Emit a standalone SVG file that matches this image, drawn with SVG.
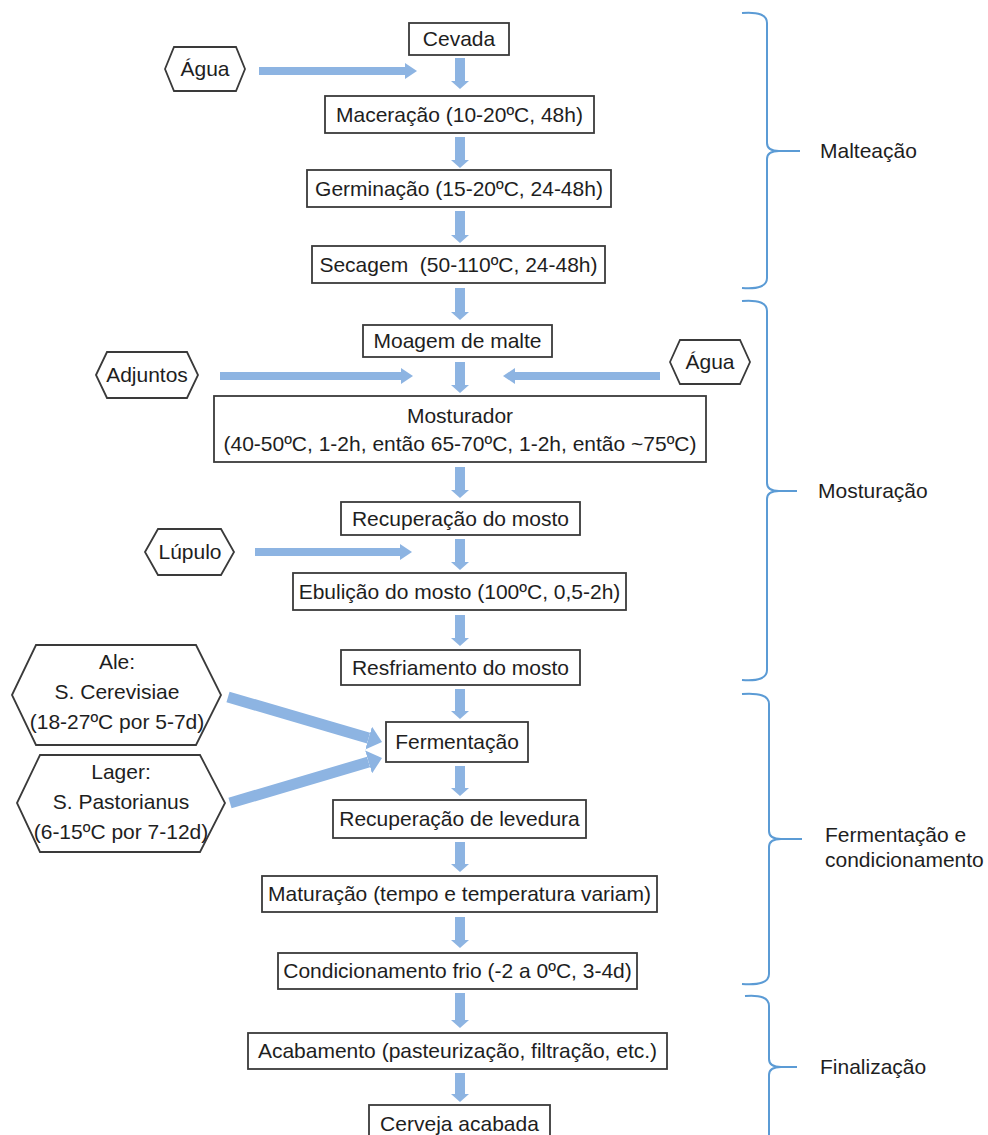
<svg xmlns="http://www.w3.org/2000/svg" width="988" height="1135" viewBox="0 0 988 1135">
<defs>
<style>
.box{fill:#fff;stroke:#3a3a3a;stroke-width:1.8}
.hex{fill:#fff;stroke:#3a3a3a;stroke-width:1.8}
.t{font-family:"Liberation Sans",Arial,sans-serif;font-size:21px;fill:#1e1e1e;text-anchor:middle}
.lbl{font-family:"Liberation Sans",Arial,sans-serif;font-size:21px;fill:#1e1e1e}
.ad{stroke:#8db4e2;stroke-width:10;fill:none}
.ah{stroke:#8db4e2;stroke-width:8;fill:none}
.ag{stroke:#8db4e2;stroke-width:11;fill:none}
.br{stroke:#5b9bd5;stroke-width:2;fill:none}
</style>
<marker id="mD" markerUnits="userSpaceOnUse" markerWidth="8" markerHeight="18" viewBox="0 -9 8 18" refX="0" refY="0" orient="auto"><path d="M0,-9 L8,0 L0,9 Z" fill="#8db4e2"/></marker>
<marker id="mH" markerUnits="userSpaceOnUse" markerWidth="12" markerHeight="16" viewBox="0 -8 12 16" refX="0" refY="0" orient="auto"><path d="M0,-8 L12,0 L0,8 Z" fill="#8db4e2"/></marker>
<marker id="mG" markerUnits="userSpaceOnUse" markerWidth="14" markerHeight="24" viewBox="0 -12 14 24" refX="0" refY="0" orient="auto"><path d="M0,-12 L14,0 L0,12 Z" fill="#8db4e2"/></marker>
</defs>
<rect width="988" height="1135" fill="#fff"/>

<g id="connectors">
<line class="ad" x1="460" y1="58" x2="460" y2="81" marker-end="url(#mD)"/>
<line class="ad" x1="460" y1="137" x2="460" y2="160" marker-end="url(#mD)"/>
<line class="ad" x1="460" y1="211" x2="460" y2="235" marker-end="url(#mD)"/>
<line class="ad" x1="460" y1="288" x2="460" y2="312" marker-end="url(#mD)"/>
<line class="ad" x1="460" y1="362" x2="460" y2="385" marker-end="url(#mD)"/>
<line class="ad" x1="460" y1="467" x2="460" y2="490" marker-end="url(#mD)"/>
<line class="ad" x1="460" y1="539" x2="460" y2="562" marker-end="url(#mD)"/>
<line class="ad" x1="460" y1="615" x2="460" y2="638" marker-end="url(#mD)"/>
<line class="ad" x1="460" y1="689" x2="460" y2="711" marker-end="url(#mD)"/>
<line class="ad" x1="460" y1="766" x2="460" y2="788" marker-end="url(#mD)"/>
<line class="ad" x1="460" y1="842" x2="460" y2="864" marker-end="url(#mD)"/>
<line class="ad" x1="460" y1="917" x2="460" y2="940" marker-end="url(#mD)"/>
<line class="ad" x1="460" y1="993" x2="460" y2="1020" marker-end="url(#mD)"/>
<line class="ad" x1="460" y1="1073" x2="460" y2="1094" marker-end="url(#mD)"/>
<line class="ah" x1="259" y1="71" x2="405" y2="71" marker-end="url(#mH)"/>
<line class="ah" x1="220" y1="376" x2="401" y2="376" marker-end="url(#mH)"/>
<line class="ah" x1="660" y1="376" x2="515" y2="376" marker-end="url(#mH)"/>
<line class="ah" x1="255" y1="552" x2="400" y2="552" marker-end="url(#mH)"/>
<line class="ag" x1="228" y1="697" x2="368.6" y2="738.1" marker-end="url(#mG)"/>
<line class="ag" x1="230" y1="803" x2="368.6" y2="762" marker-end="url(#mG)"/>
</g>

<g id="brackets">
<path class="br" d="M742,13 Q767,11 767,23 L767,143 Q767,151 779,151 L800,151 M779,151 Q767,151 767,159 L767,278 Q767,290 742,288"/>
<path class="br" d="M742,301 Q767,299 767,311 L767,483 Q767,491 779,491 L797,491 M779,491 Q767,491 767,499 L767,670 Q767,682 742,680"/>
<path class="br" d="M742,694 Q769,692 769,704 L769,831 Q769,839 781,839 L802,839 M781,839 Q769,839 769,847 L769,974 Q769,986 742,984"/>
<path class="br" d="M745,996 Q769,994 769,1006 L769,1059 Q769,1067 781,1067 L797,1067 M781,1067 Q769,1067 769,1075 L769,1140"/>
<text class="lbl" x="820" y="158">Malteação</text>
<text class="lbl" x="818" y="498">Mosturação</text>
<text class="lbl" x="825" y="842">Fermentação e</text>
<text class="lbl" x="825" y="867">condicionamento</text>
<text class="lbl" x="820" y="1074">Finalização</text>
</g>

<g id="cevada"><rect class="box" x="409" y="23" width="100" height="32"/><text class="t" x="459" y="46">Cevada</text></g>
<g id="agua1"><polygon class="hex" points="165,69 174,47 236,47 245,69 236,91 174,91"/><text class="t" x="205" y="76">Água</text></g>
<g id="maceracao"><rect class="box" x="325" y="96" width="269" height="37"/><text class="t" x="459.5" y="121.5">Maceração (10-20ºC, 48h)</text></g>
<g id="germinacao"><rect class="box" x="307" y="170" width="304" height="37"/><text class="t" x="459" y="195.5">Germinação (15-20ºC, 24-48h)</text></g>
<g id="secagem"><rect class="box" x="312" y="246" width="293" height="37"/><text class="t" x="458.5" y="271.5" style="white-space:pre">Secagem  (50-110ºC, 24-48h)</text></g>
<g id="moagem"><rect class="box" x="363" y="325" width="189" height="32"/><text class="t" x="457.5" y="348">Moagem de malte</text></g>
<g id="adjuntos"><polygon class="hex" points="96,375 107,352 187,352 198,375 187,398 107,398"/><text class="t" x="147" y="382">Adjuntos</text></g>
<g id="agua2"><polygon class="hex" points="670,362 680,340 740,340 750,362 740,384 680,384"/><text class="t" x="710" y="369">Água</text></g>
<g id="mosturador"><rect class="box" x="214" y="396" width="492" height="66"/><text class="t" x="460" y="423">Mosturador</text><text class="t" x="460" y="451">(40-50ºC, 1-2h, então 65-70ºC, 1-2h, então ~75ºC)</text></g>
<g id="recuperacao-mosto"><rect class="box" x="341" y="502" width="239" height="33"/><text class="t" x="460.5" y="525.5">Recuperação do mosto</text></g>
<g id="lupulo"><polygon class="hex" points="145,552 158,529 221,529 234,552 221,575 158,575"/><text class="t" x="190" y="559">Lúpulo</text></g>
<g id="ebulicao"><rect class="box" x="293" y="573" width="333" height="37"/><text class="t" x="459.5" y="598.5">Ebulição do mosto (100ºC, 0,5-2h)</text></g>
<g id="resfriamento"><rect class="box" x="341" y="650" width="239" height="35"/><text class="t" x="460.5" y="674.5">Resfriamento do mosto</text></g>
<g id="ale"><polygon class="hex" points="12,695 36,645 196,645 221,695 196,745 36,745"/><text class="t" x="117" y="669">Ale:</text><text class="t" x="117" y="699">S. Cerevisiae</text><text class="t" x="117" y="729">(18-27ºC por 5-7d)</text></g>
<g id="lager"><polygon class="hex" points="17,803 40,755 200,755 225,803 200,852 40,852"/><text class="t" x="121" y="779">Lager:</text><text class="t" x="121" y="809">S. Pastorianus</text><text class="t" x="121" y="839">(6-15ºC por 7-12d)</text></g>
<g id="fermentacao"><rect class="box" x="386" y="722" width="142" height="40"/><text class="t" x="457" y="749">Fermentação</text></g>
<g id="recuperacao-levedura"><rect class="box" x="333" y="800" width="253" height="38"/><text class="t" x="459.5" y="826">Recuperação de levedura</text></g>
<g id="maturacao"><rect class="box" x="262" y="876" width="395" height="36"/><text class="t" x="459.5" y="901">Maturação (tempo e temperatura variam)</text></g>
<g id="condicionamento"><rect class="box" x="278" y="953" width="359" height="36"/><text class="t" x="457.5" y="978">Condicionamento frio (-2 a 0ºC, 3-4d)</text></g>
<g id="acabamento"><rect class="box" x="248" y="1033" width="419" height="36"/><text class="t" x="457.5" y="1058">Acabamento (pasteurização, filtração, etc.)</text></g>
<g id="cerveja"><rect class="box" x="369" y="1105" width="181" height="40"/><text class="t" x="459.5" y="1131">Cerveja acabada</text></g>
</svg>
